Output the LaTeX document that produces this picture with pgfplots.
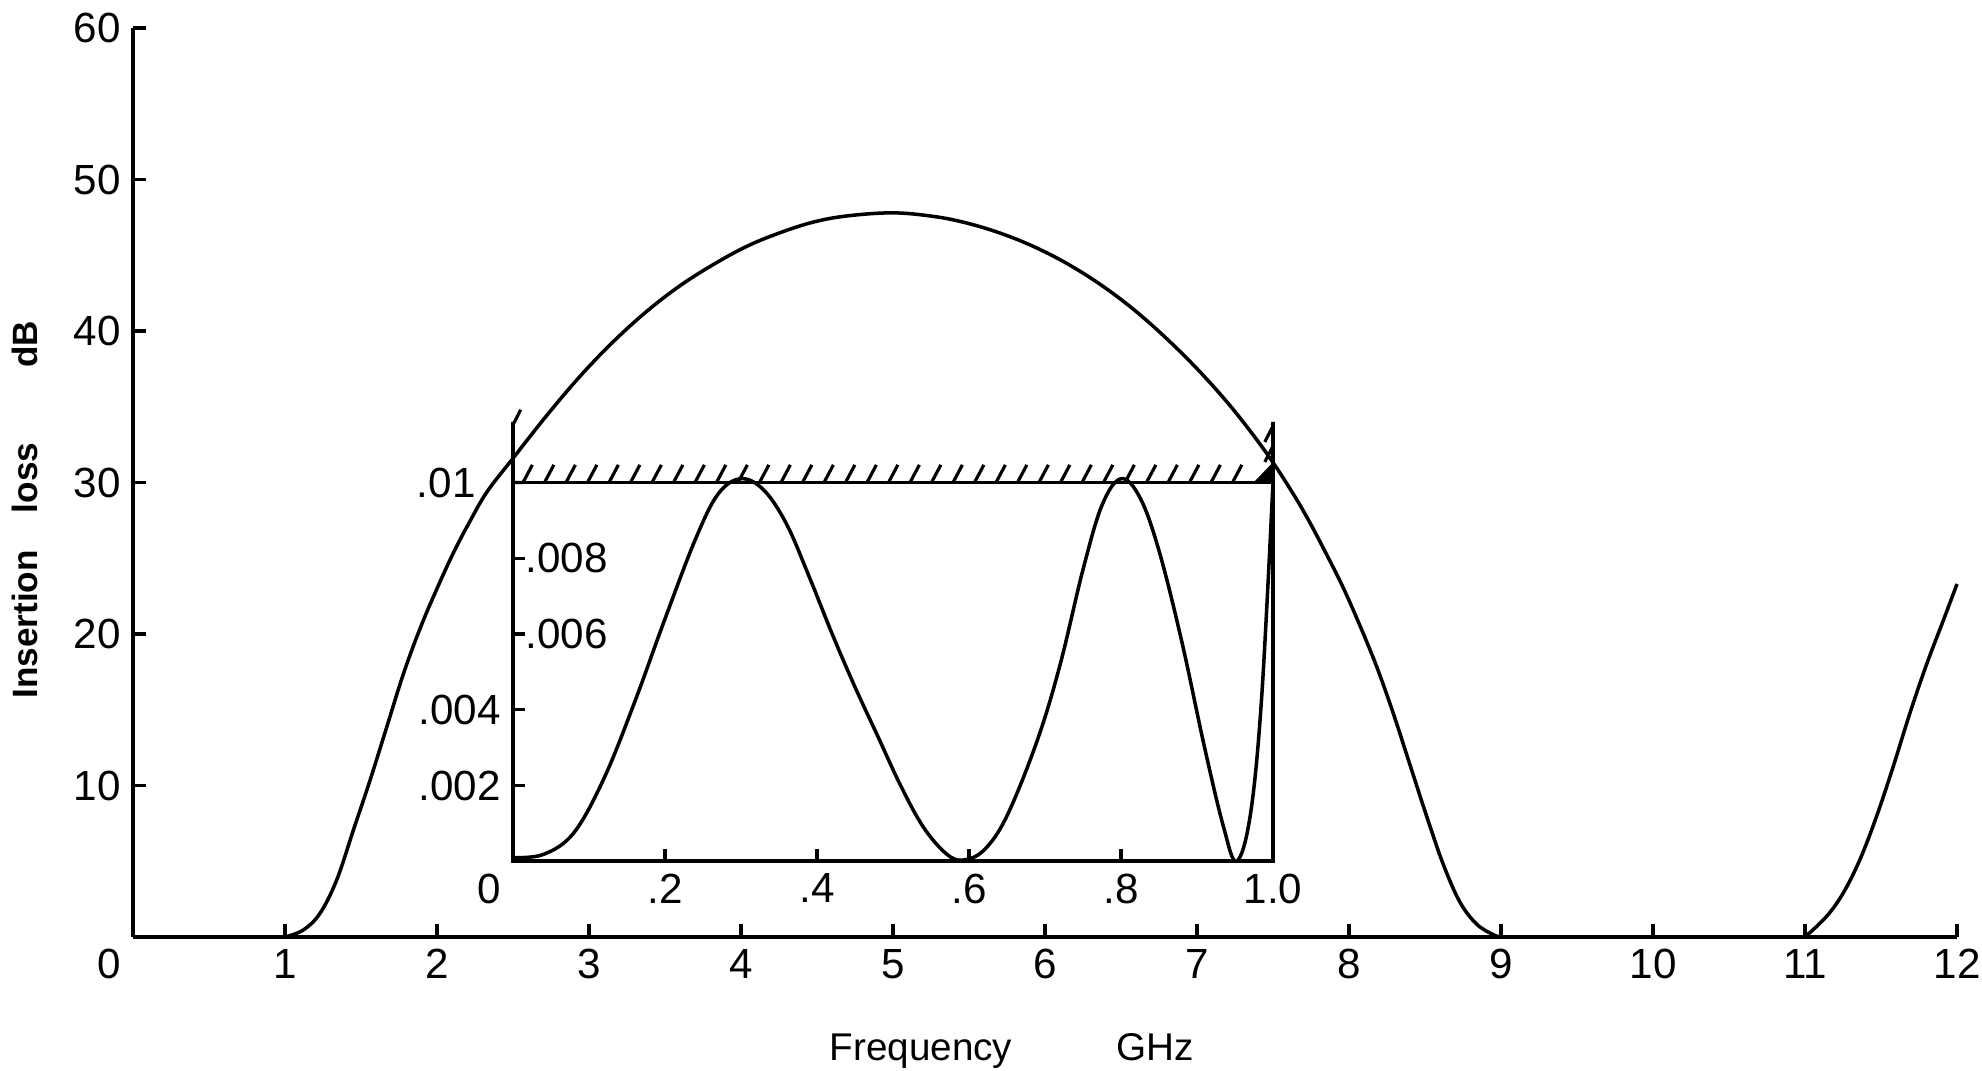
\documentclass[border=0pt]{standalone}
\usepackage{fontspec}
\setmainfont{Liberation Sans}
\usepackage{pgfplots}
\pgfplotsset{compat=1.18}
\usetikzlibrary{decorations.pathreplacing}

\begin{document}
\begin{tikzpicture}
% ---------------- main plot: insertion loss over 0--12 GHz ----------------
\begin{axis}[
  name=main,
  scale only axis,
  width=18.24cm, height=9.09cm,
  xmin=0, xmax=12, ymin=0, ymax=60,
  axis lines*=left,
  axis line style={line width=1.1pt},
  xtick={1,...,12},
  ytick={10,20,...,60},
  extra x ticks={0},
  extra x tick style={major tick length=0pt, xticklabel style={anchor=north east}},
  tick align=inside,
  major tick length=0.13cm,
  tick style={line width=0.9pt, black},
  tick label style={font=\fontsize{12}{14}\selectfont},
  /pgf/number format/assume math mode=true,
  clip=false,
]
  % stop band floor and filter response
  \addplot[black, line width=1pt] coordinates {(0,0) (1,0)};
  \addplot[black, line width=1pt, smooth, tension=0.6] coordinates {
    (1.00,0) (1.12,0.46) (1.23,1.56) (1.34,3.76) (1.45,7.06) (1.56,10.36)
    (1.67,13.88) (1.78,17.4) (1.89,20.4) (2.00,23.0) (2.11,25.4) (2.22,27.5)
    (2.33,29.4) (2.50,31.6) (2.72,34.4) (2.94,37.0) (3.16,39.3) (3.38,41.3)
    (3.60,43.0) (3.82,44.4) (4.04,45.6) (4.26,46.5) (4.48,47.2) (4.70,47.6)
    (5.00,47.8) (5.27,47.56) (5.48,47.14) (5.70,46.48) (5.92,45.6) (6.14,44.48)
    (6.36,43.1) (6.58,41.45) (6.80,39.5) (7.02,37.3) (7.24,34.8) (7.46,31.9)
    (7.63,29.3) (7.74,27.4) (7.85,25.3) (7.96,23.1) (8.07,20.6) (8.18,17.9)
    (8.29,14.8) (8.40,11.4) (8.51,8.0) (8.62,4.8) (8.73,2.3) (8.84,0.85)
    (8.95,0.15) (9.00,0)};
  \addplot[black, line width=1pt] coordinates {(9,0) (11,0)};
  \addplot[black, line width=1pt, smooth, tension=0.6] coordinates {
    (11.00,0) (11.14,1.34) (11.25,2.88) (11.36,5.08) (11.47,7.94)
    (11.58,11.24) (11.69,14.77) (11.80,18.0) (11.91,20.9) (12.00,23.3)};

  \coordinate (O) at (axis cs:0,0);
  \coordinate (insetSW) at (axis cs:2.5,5);

  % axis titles
  \node[xshift=-1.08cm, rotate=90, font=\bfseries\fontsize{10}{12}\selectfont]
    at (axis cs:0,28.2) {Insertion\hspace{0.37cm}loss\hspace{0.75cm}dB};
  \node[anchor=base, yshift=-1.23cm, font=\fontsize{11}{13}\selectfont]
    at (axis cs:5.78,0) {Frequency\hspace{1.04cm}GHz};
\end{axis}

% ---------------- inset: pass-band ripple ----------------
\begin{axis}[
  at={(insetSW)}, anchor=south west,
  scale only axis,
  width=7.6cm, height=3.7875cm,
  xmin=0, xmax=1, ymin=0, ymax=0.01,
  axis line style={line width=1.1pt},
  xtick={0.2,0.4,0.6,0.8,1.0},
  xticklabels={.2,.4,.6,.8,1.0},
  extra x ticks={0},
  extra x tick labels={0},
  extra x tick style={major tick length=0pt, xticklabel style={anchor=north east}},
  ytick={0.002,0.004,0.01},
  yticklabels={.002,.004,.01\rule{0.25cm}{0pt}},
  extra y ticks={0.006,0.008},
  extra y tick labels={.006,.008},
  extra y tick style={yticklabel style={anchor=west}},
  scaled y ticks=false,
  xtick pos=left, ytick pos=left,
  tick align=inside,
  major tick length=0.12cm,
  tick style={line width=0.9pt, black},
  tick label style={font=\fontsize{12}{14}\selectfont},
  clip=false,
]
  \addplot[black, line width=1pt, smooth, tension=0.6] coordinates {
    (0.000,0.0001) (0.040,0.00018) (0.080,0.00075) (0.120,0.0022) (0.160,0.0042)
    (0.200,0.0064) (0.240,0.0085) (0.270,0.0097) (0.300,0.0101) (0.330,0.0098)
    (0.360,0.0089) (0.390,0.0075) (0.420,0.0060) (0.450,0.0046) (0.480,0.0033)
    (0.510,0.0020) (0.540,0.0009) (0.570,0.0002) (0.592,0.00003) (0.620,0.0003)
    (0.650,0.0012) (0.690,0.0032) (0.720,0.0052) (0.750,0.0077) (0.775,0.0094)
    (0.800,0.0101) (0.825,0.0096) (0.850,0.0082) (0.880,0.0058) (0.910,0.0030)
    (0.935,0.0009) (0.952,0.0000) (0.970,0.0012) (0.985,0.0043) (1.000,0.0100)};

  % hatched limit at 0.01
  \addplot[black, line width=0.9pt, decorate,
    decoration={border, segment length=0.215cm, amplitude=0.2cm, angle=62, pre length=0.1cm}]
    coordinates {(0,0.01) (0.99,0.01)};
  \addplot[black, line width=1.1pt] coordinates {(0,0.01) (0,0.0116)};
  \addplot[black, line width=1.1pt] coordinates {(1,0.01) (1,0.0116)};
  \addplot[black, line width=0.9pt, decorate,
    decoration={border, segment length=0.8cm, amplitude=0.17cm, angle=153, pre length=0.03cm}]
    coordinates {(0,0.0116) (0,0.0108)};
  \addplot[black, line width=0.9pt, decorate,
    decoration={border, segment length=0.2cm, amplitude=0.18cm, angle=-27, pre length=0.04cm}]
    coordinates {(1,0.0116) (1,0.0102)};
  \addplot[black, fill=black, line width=0.5pt] coordinates {(0.976,0.01) (1,0.01) (1,0.0105) (0.976,0.01)};
\end{axis}

\pgfresetboundingbox
\path[use as bounding box] (O) ++(-1.33,-1.33) rectangle ++(19.82,10.70);
\end{tikzpicture}
\end{document}
